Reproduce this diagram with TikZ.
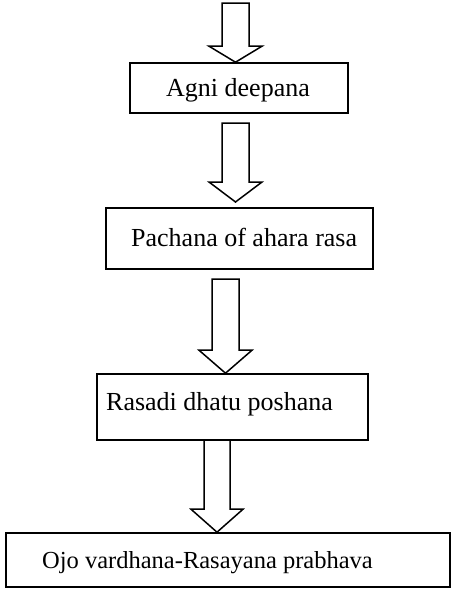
\documentclass[tikz,border=0pt]{standalone}
\usepackage{fontspec}
\setmainfont{Liberation Serif}
\usetikzlibrary{calc}
\usetikzlibrary{positioning}

% hollow block arrow: from, to, shaft half width, head half width, head length
\newcommand{\hollowarrow}[5]{%
\draw[blockarrow] let \p1=(#1), \p2=(#2) in
 (\x1-#3,\y1) -- (\x1-#3,\y2+#5) -- (\x1-#4,\y2+#5) -- (\x1,\y2)
 -- (\x1+#4,\y2+#5) -- (\x1+#3,\y2+#5) -- (\x1+#3,\y1) -- cycle;
}

\begin{document}
\begin{tikzpicture}[line cap=round,line join=miter,x=1pt,y=-1pt,
 flowbox/.style={draw,line width=1.6pt,inner sep=0pt},
 boxtext/.style={inner sep=0pt,anchor=base west,font=\fontsize{26}{30}\selectfont},
 blockarrow/.style={line width=1.5pt,fill=white}]
\useasboundingbox (0,0) rectangle (451,590);

%kehykset
\node [flowbox,minimum width=218,minimum height=50] (agni) at (239,88) {};
\node [flowbox,minimum width=267,minimum height=61] (pachana) at (239.5,238.5) {};
\node [flowbox,minimum width=271,minimum height=66] (rasadi) at (232.5,407) {};
\node [flowbox,minimum width=444,minimum height=54] (ojo) at (228,560) {};

%tekstit
\node [boxtext] (t1) at (166,96) {Agni deepana};
\node [boxtext] (t2) at (131,246) {Pachana of ahara rasa};
\node [boxtext] (t3) at (106,410) {Rasadi dhatu poshana};
\node [boxtext,font=\fontsize{24.5}{30}\selectfont] (t4) at (42,568) {Ojo vardhana-Rasayana prabhava};

%nuolet
\coordinate (a1s) at (235.5,3);
\coordinate (a1e) at (a1s |- agni.north);
\coordinate (a2s) at (235.5,123);
\coordinate (a2e) at (235.5,202);
\coordinate (a3s) at (225.5,279);
\coordinate (a3e) at (a3s |- rasadi.north);
\coordinate (a4s) at (217,440);
\coordinate (a4e) at (a4s |- ojo.north);
\hollowarrow{a1s}{a1e}{13.5pt}{26.5pt}{16pt}
\hollowarrow{a2s}{a2e}{13.5pt}{26.5pt}{20pt}
\hollowarrow{a3s}{a3e}{13.5pt}{26.5pt}{23pt}
\hollowarrow{a4s}{a4e}{13pt}{26pt}{23pt}
\end{tikzpicture}
\end{document}
